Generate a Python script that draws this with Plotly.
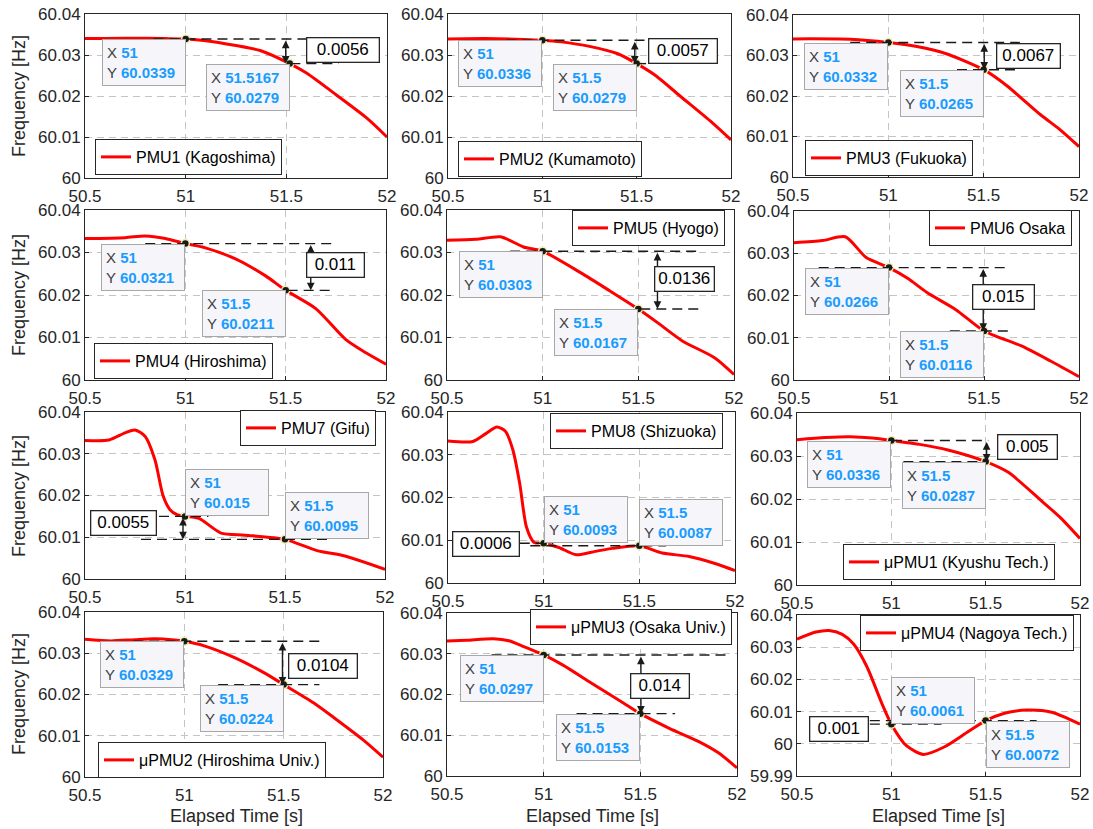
import plotly.graph_objects as go

W, H = 1093, 829
FONT = "Liberation Sans, Arial, Helvetica, sans-serif"

# ---- measurement series (time [s], frequency [Hz]) ----
names = ["PMU1 (Kagoshima)", "PMU2 (Kumamoto)", "PMU3 (Fukuoka)",
         "PMU4 (Hiroshima)", "PMU5 (Hyogo)", "PMU6 Osaka",
         "PMU7 (Gifu)", "PMU8 (Shizuoka)", "μPMU1 (Kyushu Tech.)",
         "μPMU2 (Hiroshima Univ.)", "μPMU3 (Osaka Univ.)", "μPMU4 (Nagoya Tech.)"]

t1 = [50.5, 50.7, 50.9, 51.0, 51.1, 51.25, 51.37, 51.5167, 51.6, 51.75, 51.9, 52.0]
f1 = [60.0340, 60.0341, 60.0340, 60.0339, 60.0335, 60.0323, 60.0311, 60.0279, 60.0256, 60.0202, 60.0146, 60.0100]

t2 = [50.5, 50.7, 50.9, 51.0, 51.1, 51.25, 51.4, 51.5, 51.6, 51.73, 51.9, 52.0]
f2 = [60.0339, 60.0340, 60.0338, 60.0336, 60.0332, 60.0321, 60.0303, 60.0279, 60.0250, 60.0200, 60.0135, 60.0093]

t3 = [50.5, 50.8, 51.0, 51.15, 51.3, 51.5, 51.62, 51.8, 51.9, 52.0]
f3 = [60.0341, 60.0340, 60.0332, 60.0322, 60.0305, 60.0265, 60.0226, 60.0153, 60.0117, 60.0075]

t4 = [50.5, 50.7, 50.8, 50.9, 51.0, 51.1, 51.25, 51.4, 51.5, 51.65, 51.8, 51.9, 52.0]
f4 = [60.0333, 60.0335, 60.0339, 60.0333, 60.0321, 60.0311, 60.0285, 60.0245, 60.0211, 60.0168, 60.0095, 60.0064, 60.0037]

t5 = [50.5, 50.65, 50.78, 50.9, 51.0, 51.2, 51.35, 51.5, 51.6, 51.73, 51.9, 52.0]
f5 = [60.0329, 60.0331, 60.0337, 60.0313, 60.0303, 60.0252, 60.0210, 60.0167, 60.0135, 60.0092, 60.0052, 60.0013]

t6 = [50.5, 50.65, 50.77, 50.88, 51.0, 51.1, 51.2, 51.35, 51.5, 51.7, 51.85, 52.0]
f6 = [60.0325, 60.0330, 60.0339, 60.0290, 60.0266, 60.0240, 60.0207, 60.0167, 60.0116, 60.0080, 60.0045, 60.0008]

t7 = [50.5, 50.62, 50.7, 50.75, 50.8, 50.85, 50.89, 50.925, 50.96, 51.0, 51.07, 51.18, 51.3, 51.5, 51.66, 51.8, 52.0]
f7 = [60.0332, 60.0333, 60.0350, 60.0357, 60.0342, 60.0285, 60.0200, 60.0166, 60.0154, 60.0150, 60.0145, 60.0110, 60.0105, 60.0095, 60.0068, 60.0055, 60.0023]

t8 = [50.5, 50.63, 50.7, 50.755, 50.8, 50.84, 50.875, 50.91, 50.95, 51.0, 51.08, 51.17, 51.27, 51.36, 51.5, 51.62, 51.76, 51.9, 52.0]
f8 = [60.0332, 60.0331, 60.0350, 60.0365, 60.0355, 60.0310, 60.0232, 60.0131, 60.0095, 60.0093, 60.0083, 60.0066, 60.0074, 60.0081, 60.0087, 60.0070, 60.0062, 60.0045, 60.0029]

t9 = [50.5, 50.65, 50.78, 50.9, 51.0, 51.15, 51.3, 51.5, 51.62, 51.79, 51.9, 52.0]
f9 = [60.0338, 60.0343, 60.0345, 60.0342, 60.0336, 60.0327, 60.0314, 60.0287, 60.0262, 60.0198, 60.0155, 60.0108]

t10 = [50.5, 50.63, 50.75, 50.85, 50.95, 51.0, 51.1, 51.25, 51.4, 51.5, 51.65, 51.75, 51.9, 52.0]
f10 = [60.0334, 60.0330, 60.0333, 60.0335, 60.0332, 60.0329, 60.0318, 60.0290, 60.0253, 60.0224, 60.0180, 60.0145, 60.0090, 60.0048]

t11 = [50.5, 50.6, 50.74, 50.82, 50.9, 51.0, 51.1, 51.25, 51.4, 51.5, 51.65, 51.8, 51.9, 52.0]
f11 = [60.0331, 60.0333, 60.0337, 60.0332, 60.0317, 60.0297, 60.0272, 60.0227, 60.0183, 60.0153, 60.0117, 60.0085, 60.0058, 60.0020]

t12 = [50.5, 50.6, 50.67, 50.74, 50.8, 50.87, 50.95, 51.0, 51.08, 51.17, 51.28, 51.4, 51.5, 51.6, 51.72, 51.85, 52.0]
f12 = [60.0325, 60.0347, 60.0352, 60.0340, 60.0310, 60.0240, 60.0125, 60.0061, 59.9994, 59.9967, 59.9990, 60.0035, 60.0072, 60.0095, 60.0105, 60.0098, 60.0061]

times = [t1, t2, t3, t4, t5, t6, t7, t8, t9, t10, t11, t12]
freqs = [f1, f2, f3, f4, f5, f6, f7, f8, f9, f10, f11, f12]

# data-tip points (time, frequency) and the labelled differences
tip_t = [[51, 51.5167], [51, 51.5], [51, 51.5], [51, 51.5], [51, 51.5], [51, 51.5],
         [51, 51.5], [51, 51.5], [51, 51.5], [51, 51.5], [51, 51.5], [51, 51.5]]
tip_f = [[60.0339, 60.0279], [60.0336, 60.0279], [60.0332, 60.0265],
         [60.0321, 60.0211], [60.0303, 60.0167], [60.0266, 60.0116],
         [60.015, 60.0095], [60.0093, 60.0087], [60.0336, 60.0287],
         [60.0329, 60.0224], [60.0297, 60.0153], [60.0061, 60.0072]]
deltas = ["0.0056", "0.0057", "0.0067", "0.011", "0.0136", "0.015",
          "0.0055", "0.0006", "0.005", "0.0104", "0.014", "0.001"]

x_ticks = [50.5, 51, 51.5, 52]
x_tick_text = ["50.5", "51", "51.5", "52"]
y_ticks = [60, 60.01, 60.02, 60.03, 60.04]
y_tick_text = ["60", "60.01", "60.02", "60.03", "60.04"]
y_ticks_wide = [59.99, 60, 60.01, 60.02, 60.03, 60.04]
y_tick_text_wide = ["59.99", "60", "60.01", "60.02", "60.03", "60.04"]

# ---- panel layout (pixels: left, right, top, bottom) ----
geom = [(85, 387, 14, 178), (448, 731, 14, 178), (793, 1079, 15, 177),
        (85, 386, 210, 380), (447, 734, 210, 380), (794, 1079, 211, 380),
        (85, 385, 412, 579), (448, 735, 412, 583), (797, 1080, 413, 585),
        (85, 383, 612, 777), (447, 737, 613, 776), (797, 1080, 615, 776)]

# data-tip box placement relative to its point: (xanchor, yanchor)
RT = ("right", "top")
LB = ("left", "bottom")
LT = ("left", "top")
tip_anchor = [(RT, RT)] * 6 + [(LB, LB), (LB, LB), (RT, RT), (RT, RT), (RT, RT), (LB, LT)]

# dashed reference lines (x-extent at first tip level, x-extent at second),
# arrow x position, label centre (x, y) and label width in px
refs = [
    ((50.84, 51.80), (51.52, 51.76), 51.497, (51.78, 60.0313), 69),
    ((50.81, 51.75), (51.50, 51.55), 51.49, (51.747, 60.0309), 65),
    ((50.80, 51.69), (51.36, 51.69), 51.503, (51.737, 60.0299), 60),
    ((50.80, 51.745), (51.51, 51.72), 51.625, (51.746, 60.0271), 54),
    ((50.83, 51.827), (51.51, 51.816), 51.60, (51.743, 60.0238), 56),
    ((50.63, 51.625), (51.32, 51.65), 51.496, (51.604, 60.0196), 58),
    ((50.79, 51.117), (50.78, 51.725), 50.99, (50.694, 60.0133), 62),
    ((50.875, 51.05), (50.93, 51.64), None, (50.697, 60.0092), 63),
    ((51.003, 51.514), (51.064, 51.514), 51.505, (51.72, 60.0321), 56),
    ((50.743, 51.69), (51.17, 51.68), 51.494, (51.70, 60.0268), 65),
    ((50.73, 51.95), (51.17, 51.68), 51.503, (51.60, 60.0222), 55),
    ((50.886, 51.266), (50.886, 51.77), None, (50.724, 60.0046), 55),
]

# legend boxes: (x px, vertical centre px, xanchor)
legend_pos = [(95, 157, "left"), (458, 159, "left"), (805, 158, "left"),
              (94, 361, "left"), (725, 228, "right"), (1072, 228, "right"),
              (376, 428, "right"), (723, 431, "right"), (1055, 562, "right"),
              (98, 760, "left"), (732, 627, "right"), (1074, 633, "right")]

fig = go.Figure()
layout = dict(width=W, height=H, margin=dict(l=0, r=0, t=0, b=0, autoexpand=False),
              paper_bgcolor="white", plot_bgcolor="white",
              font=dict(family=FONT, color="#262626"))
annotations = []
shapes = []

for i in range(12):
    n = i + 1
    sfx = "" if n == 1 else str(n)
    xr, yr = "x" + sfx, "y" + sfx
    left, right, top, bottom = geom[i]
    wide = (i == 11)

    common = dict(showline=True, mirror=True, linecolor="#262626", linewidth=1,
                  ticks="inside", ticklen=4, tickcolor="#262626", automargin=False,
                  showgrid=True, gridcolor="#c4c4c4", griddash="7px,5px", gridwidth=1,
                  zeroline=False, tickfont=dict(family=FONT, size=17, color="#262626"))
    layout["xaxis" + sfx] = dict(domain=[left / W, right / W], anchor=yr,
                                 range=[50.5, 52], tickvals=x_ticks, ticktext=x_tick_text,
                                 ticklabelstandoff=3, **common)
    layout["yaxis" + sfx] = dict(domain=[1 - bottom / H, 1 - top / H], anchor=xr,
                                 range=[59.99 if wide else 60, 60.04],
                                 tickvals=y_ticks_wide if wide else y_ticks,
                                 ticktext=y_tick_text_wide if wide else y_tick_text,
                                 **common)

    leg_key = "legend" if n == 1 else "legend" + str(n)
    lx, ly, lxa = legend_pos[i]
    layout[leg_key] = dict(x=lx / W, y=1 - ly / H, xanchor=lxa, yanchor="middle",
                           bgcolor="white", bordercolor="#262626", borderwidth=1,
                           font=dict(family=FONT, size=16, color="#000000"))

    fig.add_trace(go.Scatter(x=times[i], y=freqs[i], mode="lines", name=names[i],
                             line=dict(color="#ff0000", width=3, shape="spline", smoothing=0.7),
                             xaxis=xr, yaxis=yr, legend=leg_key, showlegend=True))

    (l1, l2, ax_x, (bx, by), bw) = refs[i]
    y1, y2 = tip_f[i]
    for (xa, xb), yy in ((l1, y1), (l2, y2)):
        shapes.append(dict(type="line", xref=xr, yref=yr, x0=xa, x1=xb, y0=yy, y1=yy,
                           line=dict(color="#1a1a1a", width=1.4, dash="10px,6px")))

    fig.add_trace(go.Scatter(x=tip_t[i], y=tip_f[i], mode="markers", showlegend=False,
                             marker=dict(size=8, color="#1a1a1a",
                                         line=dict(color="#f3eeb0", width=1.5)),
                             xaxis=xr, yaxis=yr, cliponaxis=False))

    if ax_x is not None:
        annotations.append(dict(x=ax_x, y=y2, ax=ax_x, ay=y1, xref=xr, yref=yr,
                                axref=xr, ayref=yr, text="", showarrow=True,
                                arrowhead=2, startarrowhead=2, arrowside="end+start",
                                arrowsize=1.1, startarrowsize=1.1, arrowwidth=1.4,
                                arrowcolor="#1a1a1a"))
    annotations.append(dict(x=bx, y=by, xref=xr, yref=yr, text=deltas[i], showarrow=False,
                            font=dict(family=FONT, size=17, color="#000000"),
                            bgcolor="white", bordercolor="#262626", borderwidth=1.3,
                            borderpad=1, width=bw, height=21))

    for k in range(2):
        xv, yv = tip_t[i][k], tip_f[i][k]
        xa_, ya_ = tip_anchor[i][k]
        txt = ("<span style='color:#404040'>X</span> "
               f"<span style='color:#1a9cff'><b>{xv:g}</b></span><br>"
               "<span style='color:#404040'>Y</span> "
               f"<span style='color:#1a9cff'><b>{yv:g}</b></span>")
        annotations.append(dict(x=xv, y=yv, xref=xr, yref=yr, xanchor=xa_, yanchor=ya_,
                                text=txt, showarrow=False, align="left",
                                font=dict(family=FONT, size=15),
                                bgcolor="#f6f6fa", bordercolor="#a8a8a8", borderwidth=1,
                                borderpad=4, width=74, height=37))

# shared axis titles
row_centres = [96, 295, 496, 694]
for yc in row_centres:
    annotations.append(dict(x=19 / W, y=1 - yc / H, xref="paper", yref="paper",
                            xanchor="center", yanchor="middle",
                            text="Frequency [Hz]", textangle=-90, showarrow=False,
                            font=dict(family=FONT, size=18, color="#262626")))
col_centres = [236, 592, 938]
for xc in col_centres:
    annotations.append(dict(x=xc / W, y=1 - 816 / H, xref="paper", yref="paper",
                            xanchor="center", yanchor="middle",
                            text="Elapsed Time [s]", showarrow=False,
                            font=dict(family=FONT, size=18, color="#262626")))

layout["annotations"] = annotations
layout["shapes"] = shapes
fig.update_layout(**layout)
fig.write_html("out.html")
